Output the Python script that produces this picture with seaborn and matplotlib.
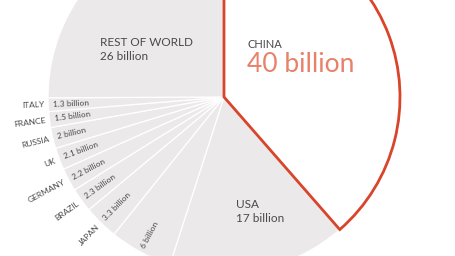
import numpy as np
import matplotlib
matplotlib.use("Agg")
import matplotlib.pyplot as plt
import seaborn as sns

# ---- data ----
countries = ["CHINA", "USA", "", "JAPAN", "BRAZIL", "GERMANY", "UK", "RUSSIA", "FRANCE", "ITALY", "REST OF WORLD"]
values = [40, 17, 6, 3.3, 2.3, 2.2, 2.1, 2, 1.5, 1.3, 26]
value_labels = ["40 billion", "17 billion", "6 billion", "3.3 billion", "2.3 billion", "2.2 billion",
                "2.1 billion", "2 billion", "1.5 billion", "1.3 billion", "26 billion"]

sns.set_theme(style="white")
plt.rcParams["font.family"] = ["Lato", "DejaVu Sans"]

GREY = "#ECE9EA"
RED = "#D8452A"
SALMON = "#E8806A"
TXT = "#4A4A4A"

fig = plt.figure(figsize=(4.55, 2.56), dpi=100)
ax = fig.add_axes([0, 0, 1, 1])

cx, cy, R = 224, 159, 176
wedges, _ = ax.pie(values, startangle=90, counterclock=False, radius=R, center=(cx, cy),
                   colors=[GREY] * len(values),
                   wedgeprops=dict(edgecolor="white", linewidth=0.9))
wedges[0].set_facecolor("white")
wedges[0].set_edgecolor(RED)
wedges[0].set_linewidth(2.0)
wedges[0].set_zorder(5)

ax.set_xlim(0, 455)
ax.set_ylim(0, 256)
ax.set_aspect("auto")
ax.axis("off")

kw = dict(va="center", ha="left", zorder=10)
# big labels
ax.text(100, 256 - 43, "REST OF WORLD", fontsize=8.5, color=TXT, **kw)
ax.text(100, 256 - 56, value_labels[-1], fontsize=8.5, color=TXT, **kw)
ax.text(248, 256 - 44, countries[0], fontsize=8, color=TXT, **kw)
ax.text(247, 256 - 64, value_labels[0], fontsize=19, color=SALMON, fontweight="normal", **kw)
ax.text(236, 256 - 205, countries[1], fontsize=8.5, color=TXT, **kw)
ax.text(236, 256 - 218, value_labels[1], fontsize=8.5, color=TXT, **kw)

# small radial labels
total = sum(values)
cum = np.cumsum([0] + values)
for i in range(2, len(values) - 1):
    mid = 90 - (cum[i] + values[i] / 2) / total * 360
    a = np.deg2rad(mid)
    rot = mid + 180
    rot = (rot + 180) % 360 - 180
    xi, yi = cx + 171 * np.cos(a), cy + 171 * np.sin(a)
    ax.text(xi, yi, value_labels[i], fontsize=6, color=TXT, rotation=rot, rotation_mode="anchor",
            ha="left", va="center", zorder=10)
    if countries[i]:
        xo, yo = cx + 180 * np.cos(a), cy + 180 * np.sin(a)
        ax.text(xo, yo, countries[i], fontsize=6, color=TXT, rotation=rot, rotation_mode="anchor",
                ha="right", va="center", zorder=10)

fig.savefig("out.png", dpi=100, facecolor="white")
